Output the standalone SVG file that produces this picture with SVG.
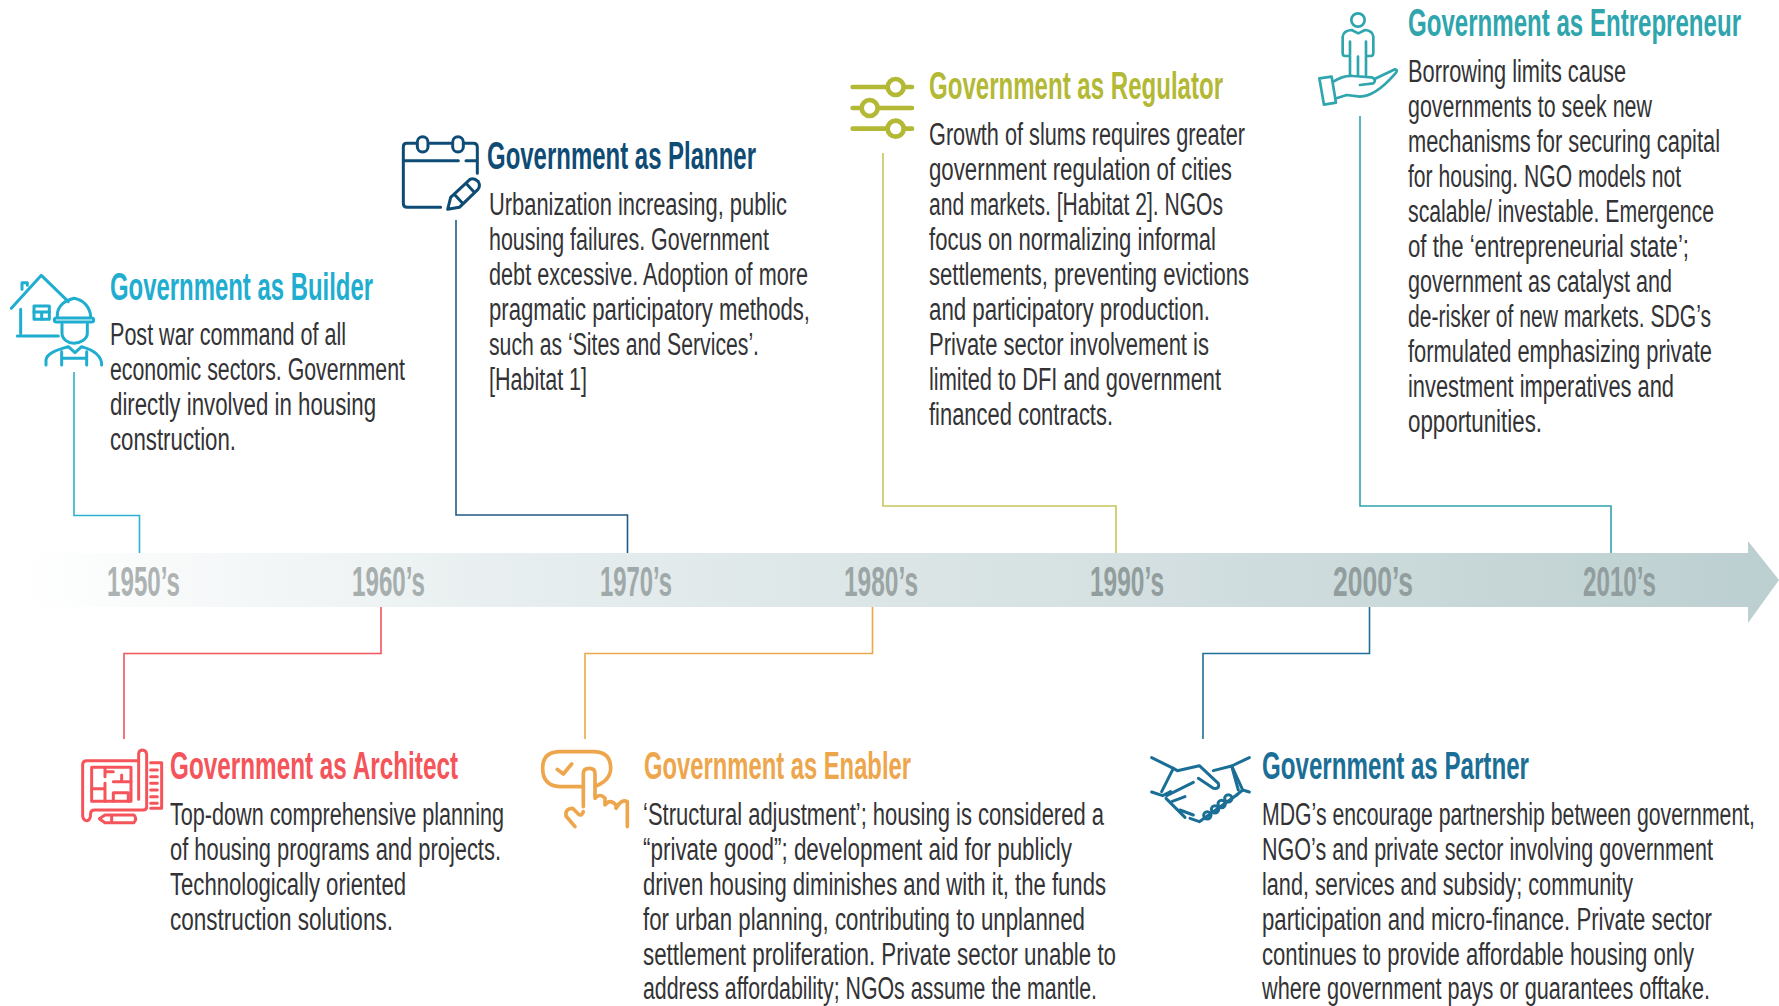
<svg xmlns="http://www.w3.org/2000/svg" width="1779" height="1006" viewBox="0 0 1779 1006">
<style>
text{font-family:"Liberation Sans",Arial,sans-serif;}
.b{font-size:31px;fill:#333336;}
.t{font-size:39px;font-weight:bold;}
.y{font-size:42px;font-weight:bold;fill:#929d9d;}
.i{fill:none;stroke-linecap:round;stroke-linejoin:round;stroke-width:9;}
.c{fill:none;stroke-width:1.6;}
</style>
<defs>
<linearGradient id="bar" gradientUnits="userSpaceOnUse" x1="20" y1="0" x2="1779" y2="0">
<stop offset="0" stop-color="#ffffff"/><stop offset="0.3" stop-color="#e6edee"/><stop offset="0.65" stop-color="#d3dfe0"/><stop offset="1" stop-color="#bccfd0"/>
</linearGradient>
</defs>
<rect width="1779" height="1006" fill="#ffffff"/>
<g id="timeline">
<polygon points="20,553 1748,553 1748,541 1779,580 1748,623 1748,607 20,607" fill="url(#bar)"/>
<text class="y" transform="translate(107 596) scale(.58 1)" textLength="125.9" lengthAdjust="spacingAndGlyphs" style="fill:#adb3b3">1950’s</text>
<text class="y" transform="translate(352 596) scale(.58 1)" textLength="125.9" lengthAdjust="spacingAndGlyphs" style="fill:#a6aeae">1960’s</text>
<text class="y" transform="translate(600 596) scale(.58 1)" textLength="124.1" lengthAdjust="spacingAndGlyphs" style="fill:#a0a9a9">1970’s</text>
<text class="y" transform="translate(844 596) scale(.58 1)" textLength="127.6" lengthAdjust="spacingAndGlyphs" style="fill:#9ba5a5">1980’s</text>
<text class="y" transform="translate(1090 596) scale(.58 1)" textLength="127.6" lengthAdjust="spacingAndGlyphs">1990’s</text>
<text class="y" transform="translate(1333 596) scale(.58 1)" textLength="137.9" lengthAdjust="spacingAndGlyphs">2000’s</text>
<text class="y" transform="translate(1583 596) scale(.58 1)" textLength="125.9" lengthAdjust="spacingAndGlyphs">2010’s</text>
</g>
<g id="connectors">
<path class="c" stroke="#2fb0d0" d="M74 372V515.5H139.5V553"/>
<path class="c" stroke="#1f5a85" d="M456 220V515H627.5V553"/>
<path class="c" stroke="#c8c55a" d="M883 153V506H1116V553"/>
<path class="c" stroke="#2ea3ad" d="M1360 116V506H1611V553"/>
<path class="c" stroke="#f4545a" d="M381 607V653.5H124V739"/>
<path class="c" stroke="#eda64a" d="M872.5 607V653.5H585V739"/>
<path class="c" stroke="#1f6f96" d="M1369.5 607V653.5H1203V739"/>
</g>
<g id="builder">
<g transform="translate(0,250) scale(.3333)" class="i" stroke="#1fadd0">
<path d="M34 175L124 76L205 155M66 118V98H82V106M62 178V250M52 258H175"/>
<rect x="102" y="168" width="46" height="40"/><path d="M102 186H148M125 186V208"/>
<path d="M172 200C170 165 200 150 222 145C250 150 270 170 272 200"/>
<rect x="163" y="204" width="118" height="12" rx="6"/>
<path d="M186 222V250C186 268 205 280 222 280C240 280 262 268 262 250V222"/>
<path d="M138 345V330C140 310 170 300 205 290L225 308L245 290C280 300 305 315 305 345M185 345V305M260 345V305M185 325H260"/>
</g>
<text class="t" fill="#1fadd0" transform="translate(110 300) scale(.62 1)" textLength="424.2" lengthAdjust="spacingAndGlyphs">Government as Builder</text>
<text class="b" transform="translate(110 345) scale(.75 1)" textLength="314.7" lengthAdjust="spacingAndGlyphs">Post war command of all</text>
<text class="b" transform="translate(110 380) scale(.75 1)" textLength="393.3" lengthAdjust="spacingAndGlyphs">economic sectors. Government</text>
<text class="b" transform="translate(110 415) scale(.75 1)" textLength="354.7" lengthAdjust="spacingAndGlyphs">directly involved in housing</text>
<text class="b" transform="translate(110 450) scale(.75 1)" textLength="168" lengthAdjust="spacingAndGlyphs">construction.</text>
</g>
<g id="planner">
<g transform="translate(380,120) scale(.3333)" class="i" stroke="#0f4c75">
<path d="M110 70H80Q70 70 70 80V250Q70 262 82 262H182M150 70H212M252 70H280Q292 70 292 82V160M72 122H235M258 122H292"/>
<rect x="112" y="50" width="32" height="46" rx="16"/><rect x="218" y="50" width="32" height="46" rx="16"/>
<path d="M203 268L212 232L270 178Q282 172 295 185Q302 198 294 208L238 262ZM222 222L250 252M258 190L282 216"/>
</g>
<text class="t" fill="#0f4c75" transform="translate(487 169) scale(.62 1)" textLength="433.9" lengthAdjust="spacingAndGlyphs">Government as Planner</text>
<text class="b" transform="translate(489 215) scale(.75 1)" textLength="397.3" lengthAdjust="spacingAndGlyphs">Urbanization increasing, public</text>
<text class="b" transform="translate(489 250) scale(.75 1)" textLength="373.3" lengthAdjust="spacingAndGlyphs">housing failures. Government</text>
<text class="b" transform="translate(489 285) scale(.75 1)" textLength="425.3" lengthAdjust="spacingAndGlyphs">debt excessive. Adoption of more</text>
<text class="b" transform="translate(489 320) scale(.75 1)" textLength="428" lengthAdjust="spacingAndGlyphs">pragmatic participatory methods,</text>
<text class="b" transform="translate(489 355) scale(.75 1)" textLength="360" lengthAdjust="spacingAndGlyphs">such as ‘Sites and Services’.</text>
<text class="b" transform="translate(489 390) scale(.75 1)" textLength="130.7" lengthAdjust="spacingAndGlyphs">[Habitat 1]</text>
</g>
<g id="regulator">
<g transform="translate(830,50) scale(.3333)" class="i" stroke="#b3b935" style="stroke-width:14">
<path d="M68 111H172M222 111H246M68 174H94M144 174H246M68 236H172M222 236H246"/>
<circle cx="197" cy="111" r="24"/><circle cx="119" cy="174" r="24"/><circle cx="197" cy="236" r="24"/>
</g>
<text class="t" fill="#b3b935" transform="translate(929 99) scale(.62 1)" textLength="474.2" lengthAdjust="spacingAndGlyphs">Government as Regulator</text>
<text class="b" transform="translate(929 145) scale(.75 1)" textLength="421.3" lengthAdjust="spacingAndGlyphs">Growth of slums requires greater</text>
<text class="b" transform="translate(929 180) scale(.75 1)" textLength="404" lengthAdjust="spacingAndGlyphs">government regulation of cities</text>
<text class="b" transform="translate(929 215) scale(.75 1)" textLength="392" lengthAdjust="spacingAndGlyphs">and markets. [Habitat 2]. NGOs</text>
<text class="b" transform="translate(929 250) scale(.75 1)" textLength="382.7" lengthAdjust="spacingAndGlyphs">focus on normalizing informal</text>
<text class="b" transform="translate(929 285) scale(.75 1)" textLength="426.7" lengthAdjust="spacingAndGlyphs">settlements, preventing evictions</text>
<text class="b" transform="translate(929 320) scale(.75 1)" textLength="374.7" lengthAdjust="spacingAndGlyphs">and participatory production.</text>
<text class="b" transform="translate(929 355) scale(.75 1)" textLength="373.3" lengthAdjust="spacingAndGlyphs">Private sector involvement is</text>
<text class="b" transform="translate(929 390) scale(.75 1)" textLength="389.3" lengthAdjust="spacingAndGlyphs">limited to DFI and government</text>
<text class="b" transform="translate(929 425) scale(.75 1)" textLength="245.3" lengthAdjust="spacingAndGlyphs">financed contracts.</text>
</g>
<g id="entrepreneur">
<g transform="translate(1300,0) scale(.3333)" class="i" stroke="#2fa5ad" style="stroke-width:8">
<circle cx="174" cy="60" r="20"/>
<path d="M150 225V168H135Q128 168 128 158V110Q130 92 155 90L175 100L195 90Q218 92 220 110V158Q220 168 212 168H198V225M174 170V225M150 125V165M198 125V165"/>
<path d="M58 235L95 230L108 308L72 314ZM100 245Q130 225 160 228L215 232Q232 238 220 250L180 255M222 238L285 208Q296 210 285 222C250 262 215 290 180 290L140 285L105 296"/>
</g>
<text class="t" fill="#2fa5ad" transform="translate(1408 36) scale(.62 1)" textLength="537.1" lengthAdjust="spacingAndGlyphs">Government as Entrepreneur</text>
<text class="b" transform="translate(1408 82) scale(.75 1)" textLength="290.7" lengthAdjust="spacingAndGlyphs">Borrowing limits cause</text>
<text class="b" transform="translate(1408 117) scale(.75 1)" textLength="325.3" lengthAdjust="spacingAndGlyphs">governments to seek new</text>
<text class="b" transform="translate(1408 152) scale(.75 1)" textLength="416" lengthAdjust="spacingAndGlyphs">mechanisms for securing capital</text>
<text class="b" transform="translate(1408 187) scale(.75 1)" textLength="364" lengthAdjust="spacingAndGlyphs">for housing. NGO models not</text>
<text class="b" transform="translate(1408 222) scale(.75 1)" textLength="408" lengthAdjust="spacingAndGlyphs">scalable/ investable. Emergence</text>
<text class="b" transform="translate(1408 257) scale(.75 1)" textLength="374.7" lengthAdjust="spacingAndGlyphs">of the ‘entrepreneurial state’;</text>
<text class="b" transform="translate(1408 292) scale(.75 1)" textLength="352" lengthAdjust="spacingAndGlyphs">government as catalyst and</text>
<text class="b" transform="translate(1408 327) scale(.75 1)" textLength="404" lengthAdjust="spacingAndGlyphs">de-risker of new markets. SDG’s</text>
<text class="b" transform="translate(1408 362) scale(.75 1)" textLength="405.3" lengthAdjust="spacingAndGlyphs">formulated emphasizing private</text>
<text class="b" transform="translate(1408 397) scale(.75 1)" textLength="354.7" lengthAdjust="spacingAndGlyphs">investment imperatives and</text>
<text class="b" transform="translate(1408 432) scale(.75 1)" textLength="178.7" lengthAdjust="spacingAndGlyphs">opportunities.</text>
</g>
<g id="architect">
<g transform="translate(60,730) scale(.3333)" class="i" stroke="#f4545a">
<path d="M236 92H80Q68 92 68 104V255Q68 272 82 272Q92 270 92 250Q92 240 104 240H250Q260 240 260 230V75Q260 60 246 60Q236 62 236 72V208"/>
<rect x="95" y="112" width="118" height="102"/>
<path d="M135 112V140M135 160V214M95 176H130M160 125H135M160 155H213M185 135V155M160 188H205V214M160 188V214"/>
<path d="M272 98H305V235H272M272 120H292M272 140H292M272 160H292M272 180H292M272 200H292M272 220H292"/>
<path d="M118 266L135 255H222Q232 266 222 278H135ZM155 255V278"/>
</g>
<text class="t" fill="#f4545a" transform="translate(170 779) scale(.62 1)" textLength="464.5" lengthAdjust="spacingAndGlyphs">Government as Architect</text>
<text class="b" transform="translate(170 825) scale(.75 1)" textLength="445.3" lengthAdjust="spacingAndGlyphs">Top-down comprehensive planning</text>
<text class="b" transform="translate(170 860) scale(.75 1)" textLength="441.3" lengthAdjust="spacingAndGlyphs">of housing programs and projects.</text>
<text class="b" transform="translate(170 895) scale(.75 1)" textLength="314.7" lengthAdjust="spacingAndGlyphs">Technologically oriented</text>
<text class="b" transform="translate(170 930) scale(.75 1)" textLength="297.3" lengthAdjust="spacingAndGlyphs">construction solutions.</text>
</g>
<g id="enabler">
<g transform="translate(520,730) scale(.3333)" class="i" stroke="#eea64c" style="stroke-width:11">
<path d="M185 170H120Q68 168 68 115Q68 65 120 65H220Q272 65 272 115Q272 150 228 168M112 118L130 132L155 102"/>
<path d="M190 230V130Q190 115 208 115Q225 115 225 130V205Q240 188 255 205V225Q270 205 288 225V235Q305 205 322 215V290M190 245Q185 260 175 252L158 235Q135 235 138 258L165 290"/>
</g>
<text class="t" fill="#eea64c" transform="translate(644 779) scale(.62 1)" textLength="430.6" lengthAdjust="spacingAndGlyphs">Government as Enabler</text>
<text class="b" transform="translate(643 825) scale(.75 1)" textLength="614.7" lengthAdjust="spacingAndGlyphs">‘Structural adjustment’; housing is considered a</text>
<text class="b" transform="translate(643 860) scale(.75 1)" textLength="572" lengthAdjust="spacingAndGlyphs">“private good”; development aid for publicly</text>
<text class="b" transform="translate(643 895) scale(.75 1)" textLength="617.3" lengthAdjust="spacingAndGlyphs">driven housing diminishes and with it, the funds</text>
<text class="b" transform="translate(643 930) scale(.75 1)" textLength="589.3" lengthAdjust="spacingAndGlyphs">for urban planning, contributing to unplanned</text>
<text class="b" transform="translate(643 965) scale(.75 1)" textLength="630.7" lengthAdjust="spacingAndGlyphs">settlement proliferation. Private sector unable to</text>
<text class="b" transform="translate(643 999) scale(.75 1)" textLength="605.3" lengthAdjust="spacingAndGlyphs">address affordability; NGOs assume the mantle.</text>
</g>
<g id="partner">
<g transform="translate(1130,730) scale(.3333)" class="i" stroke="#1b6f96">
<path d="M65 83L130 115L95 185M65 186L98 197L122 185M358 83L305 108L338 180L358 186M338 180L320 195"/>
<path d="M130 115L142 122L208 107L265 160Q270 178 250 175L205 145M190 157L110 197M250 122L305 108L325 180"/>
<path d="M108 205L165 262M125 215L165 200M150 240L190 255M180 265L208 275L320 195"/>
<circle cx="232" cy="256" r="11"/><circle cx="255" cy="238" r="11"/><circle cx="275" cy="222" r="11"/><circle cx="295" cy="205" r="11"/>
</g>
<text class="t" fill="#1b6f96" transform="translate(1262 779) scale(.62 1)" textLength="430.6" lengthAdjust="spacingAndGlyphs">Government as Partner</text>
<text class="b" transform="translate(1262 825) scale(.66 1)" textLength="747" lengthAdjust="spacingAndGlyphs">MDG’s encourage partnership between government,</text>
<text class="b" transform="translate(1262 860) scale(.75 1)" textLength="601.3" lengthAdjust="spacingAndGlyphs">NGO’s and private sector involving government</text>
<text class="b" transform="translate(1262 895) scale(.75 1)" textLength="494.7" lengthAdjust="spacingAndGlyphs">land, services and subsidy; community</text>
<text class="b" transform="translate(1262 930) scale(.75 1)" textLength="600" lengthAdjust="spacingAndGlyphs">participation and micro-finance. Private sector</text>
<text class="b" transform="translate(1262 965) scale(.75 1)" textLength="576" lengthAdjust="spacingAndGlyphs">continues to provide affordable housing only</text>
<text class="b" transform="translate(1262 999) scale(.75 1)" textLength="597.3" lengthAdjust="spacingAndGlyphs">where government pays or guarantees offtake.</text>
</g>
</svg>
